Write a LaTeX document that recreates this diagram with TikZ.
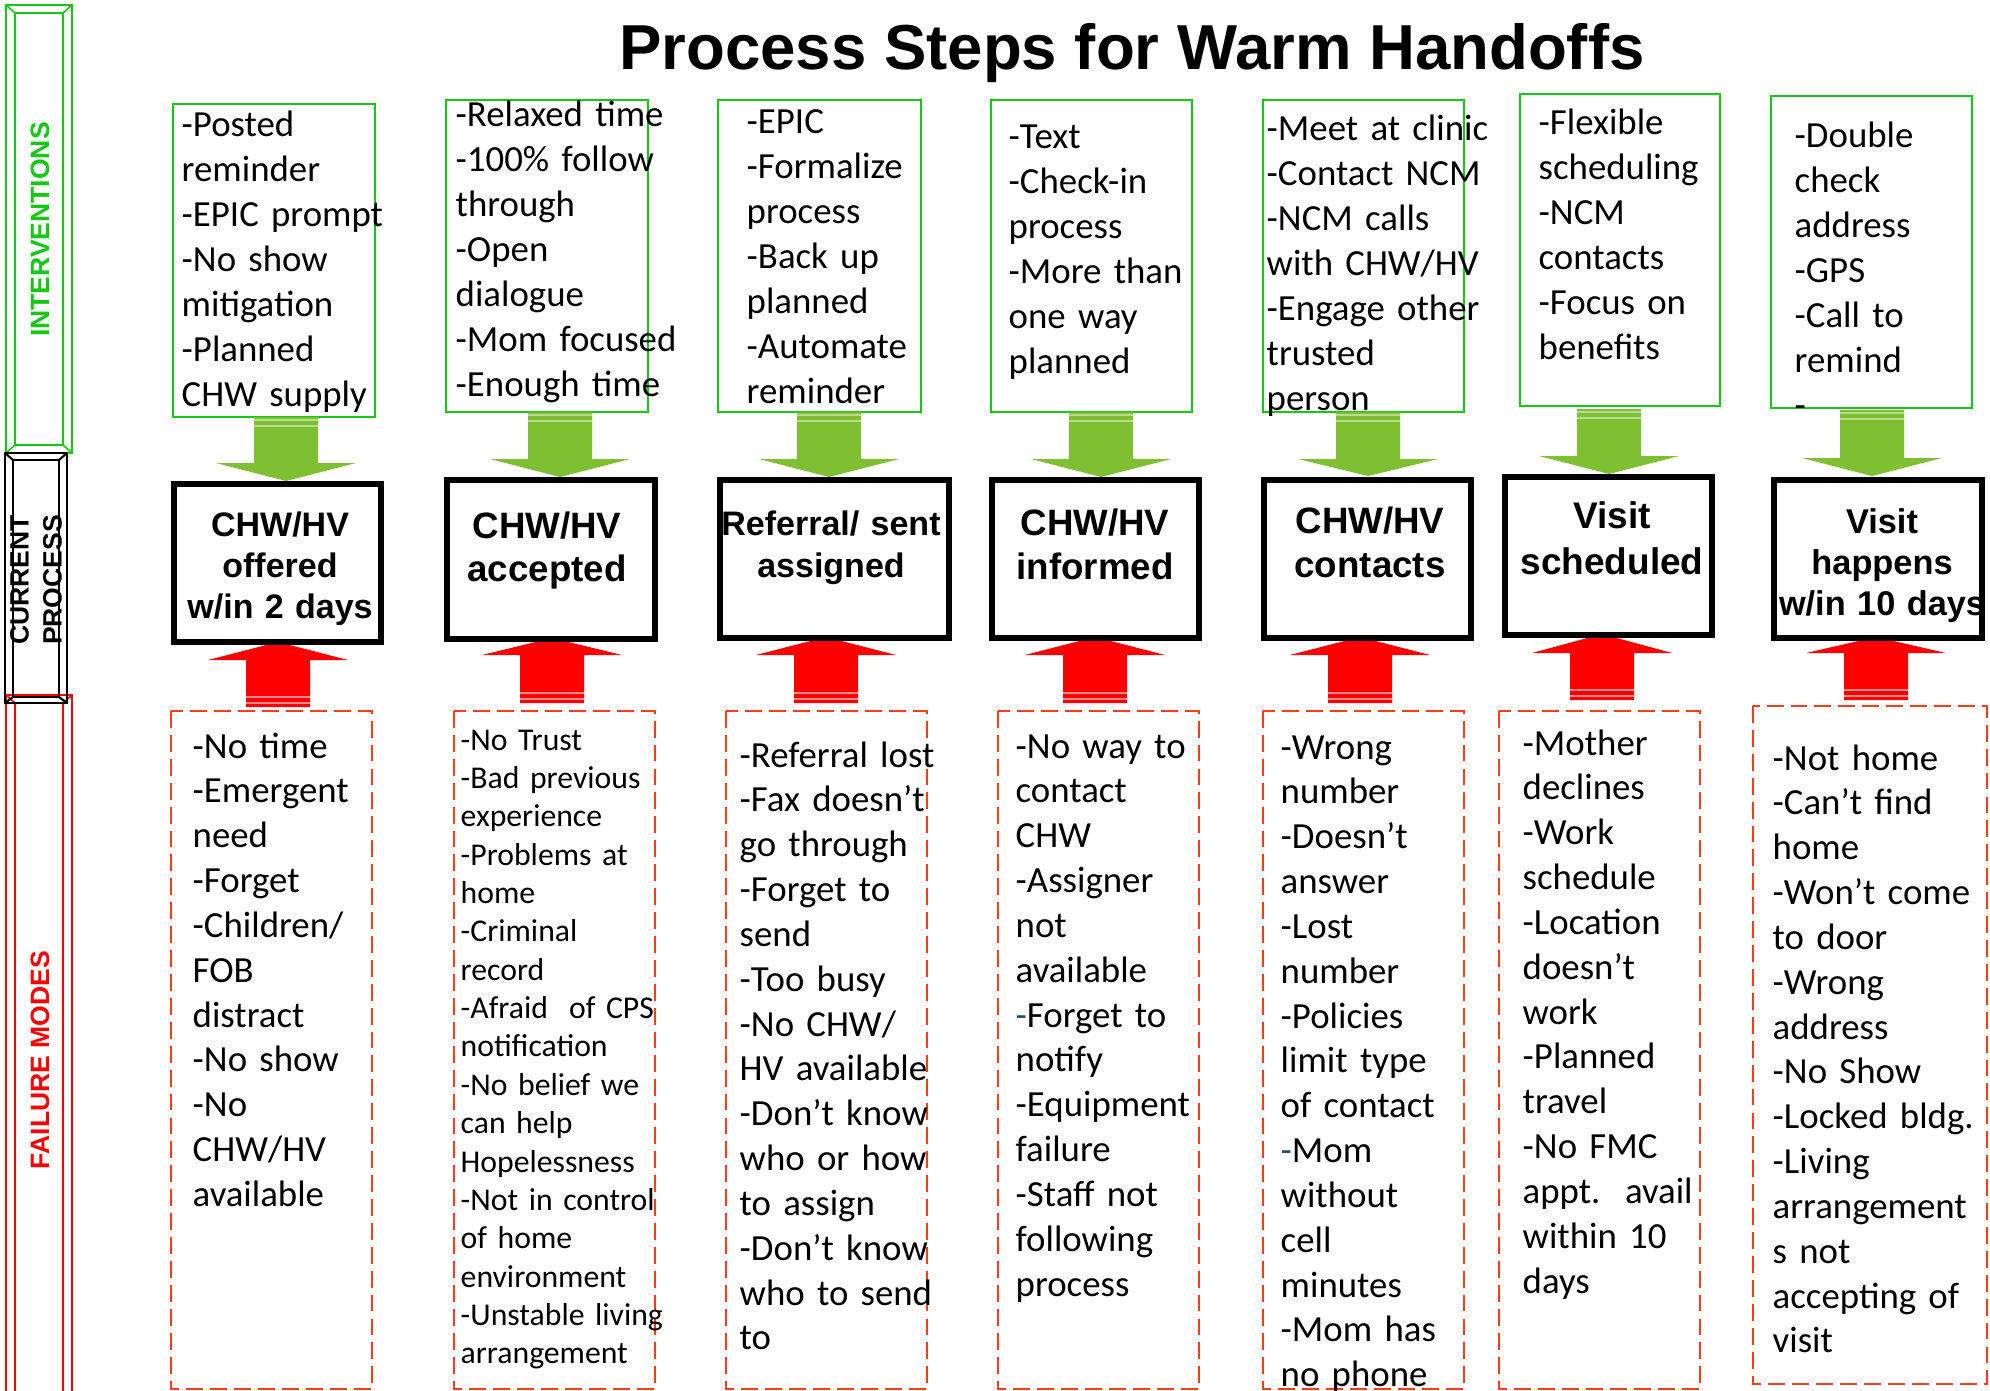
\documentclass[tikz,border=0pt]{standalone}
\usepackage{fontspec}
\setmainfont{Carlito}
\newfontfamily\arialfont{Liberation Sans}
\definecolor{ngreen}{RGB}{20,200,20}
\definecolor{agreen}{RGB}{126,192,50}
\definecolor{ared}{RGB}{255,0,0}
\definecolor{fred}{RGB}{255,60,20}
\definecolor{hyph}{RGB}{31,78,121}
% block arrow pointing down: centre x, shaft top, head base, tip
\newcommand{\gArrow}[4]{%
  \fill[agreen] ({#1-32},#2) -- ({#1+32},#2) -- ({#1+32},#3) -- ({#1+70},#3) -- (#1,#4) -- ({#1-70},#3) -- ({#1-32},#3) -- cycle;
  \draw[agreen!55!white, line width=0.3pt] ({#1-32},{#2+3}) -- ({#1+32},{#2+3}) ({#1-32},{#2+9}) -- ({#1+32},{#2+9});
}
% block arrow pointing up: centre x, shaft bottom, head base, tip
\newcommand{\rArrow}[4]{%
  \fill[ared] ({#1-32},#2) -- ({#1+32},#2) -- ({#1+32},#3) -- ({#1+70},#3) -- (#1,#4) -- ({#1-70},#3) -- ({#1-32},#3) -- cycle;
  \draw[ared!45!white, line width=0.3pt] ({#1-32},{#2-4}) -- ({#1+32},{#2-4}) ({#1-32},{#2-10}) -- ({#1+32},{#2-10});
}
\begin{document}
\begin{tikzpicture}[x=0.01cm,y=-0.01cm,
  ibox/.style={draw=ngreen, line width=0.5pt},
  pbox/.style={draw=black, line width=1.71pt, fill=white},
  fbox/.style={draw=fred, line width=0.6pt, dash pattern=on 4.8pt off 2pt},
  itext/.style={anchor=base west, inner sep=0pt, text width=4cm, align=left,
    font=\fontsize{10.47pt}{12.75pt}\selectfont},
  ismall/.style={itext, font=\fontsize{9.02pt}{10.91pt}\selectfont},
  ptext/.style={anchor=base, inner sep=0pt, text width=3cm, align=center},
  side/.style={rotate=90, inner sep=0pt, align=center,
    font=\arialfont\bfseries\fontsize{7.54pt}{9.39pt}\selectfont}]
\useasboundingbox (0,0) rectangle (1990,1391);
\fill[white] (0,0) rectangle (1990,1391);
\clip (0,0) rectangle (1990,1391);

% ---- side bars
\begin{scope}[draw=ngreen, line width=0.45pt]
  \draw (6,5) rectangle (72,453);
  \draw (15,13) rectangle (63,445);
  \draw (6,5) -- (15,13) (72,5) -- (63,13) (6,453) -- (15,445) (72,453) -- (63,445);
\end{scope}
\begin{scope}[draw=ared, line width=0.45pt]
  \draw (6,695) rectangle (72,1420);
  \draw (15,703) rectangle (63,1412);
  \draw (6,695) -- (15,703) (72,695) -- (63,703);
\end{scope}
\begin{scope}[draw=black, line width=0.6pt]
  \draw (5,453) rectangle (67,703);
  \draw (13,460) rectangle (59,697);
  \draw (5,453) -- (13,460) (67,453) -- (59,460) (5,703) -- (13,697) (67,703) -- (59,697);
\end{scope}
\node[side, text=ngreen] (lint) at (40,229.5) {INTERVENTIONS};
\node[side, text=black] (lcur) at (36,580) {CURRENT\\PROCESS};
\node[side, text=ared] (lfail) at (40,1060) {FAILURE MODES};

% ---- title
\node[anchor=base, inner sep=0pt, font=\arialfont\bfseries\fontsize{18.07pt}{21pt}\selectfont] (title) at (1132,70) {Process Steps for Warm Handoffs};

% ---- intervention boxes
\draw[ibox] (173,104) rectangle (375,417);
\draw[ibox] (446,100) rectangle (648,412);
\draw[ibox] (718,100) rectangle (921,412);
\draw[ibox] (991,100) rectangle (1192,412);
\draw[ibox] (1263,100) rectangle (1464,412);
\draw[ibox] (1520,94) rectangle (1720,406);
\draw[ibox] (1771,96) rectangle (1972,408);

\node[itext] (i1) at (181,137) {-Posted\\reminder\\-EPIC prompt\\-No show\\mitigation\\-Planned\\CHW supply};
\node[itext] (i2) at (455,127) {-Relaxed time\\-100\% follow\\through\\-Open\\dialogue\\-Mom focused\\-Enough time};
\node[itext] (i3) at (746,134) {-EPIC\\-Formalize\\process\\-Back up\\planned\\-Automate\\reminder};
\node[itext] (i4) at (1008,149) {-Text\\-Check-in\\process\\-More than\\one way\\planned};
\node[itext] (i5) at (1266,141) {-Meet at clinic\\-Contact NCM\\-NCM calls\\with CHW/HV\\-Engage other\\trusted\\person};
\node[itext] (i6) at (1538,135) {-Flexible\\scheduling\\-NCM\\contacts\\-Focus on\\benefits};
\node[itext] (i7) at (1794,148) {-Double\\check\\address\\-GPS\\-Call to\\remind\\-};

% ---- arrows
\gArrow{286}{417}{463}{481}
\gArrow{560}{412}{459}{477}
\gArrow{829}{412}{459}{477}
\gArrow{1101}{412}{459}{477}
\gArrow{1368}{412}{459}{476}
\gArrow{1609}{409}{456}{474}
\gArrow{1872}{410}{458}{476}

\rArrow{278}{707}{660}{642}
\rArrow{552}{703}{655}{638}
\rArrow{826}{703}{655}{637}
\rArrow{1095}{703}{655}{637}
\rArrow{1360}{703}{655}{637}
\rArrow{1602}{700}{653}{634}
\rArrow{1876}{700}{653}{637}

% ---- process boxes
\draw[pbox] (174,484) rectangle (381,642);
\draw[pbox] (447,480) rectangle (655,639);
\draw[pbox] (720,480) rectangle (949,638);
\draw[pbox] (992,480) rectangle (1199,638);
\draw[pbox] (1264,480) rectangle (1471,638);
\draw[pbox] (1505,477) rectangle (1712,635);
\draw[pbox] (1774,480) rectangle (1982,638);

\node[ptext, font=\arialfont\bfseries\fontsize{9.67pt}{11.67pt}\selectfont] (p1) at (280,536) {CHW/HV\\offered\\w/in 2 days};
\node[ptext, font=\arialfont\bfseries\fontsize{10.44pt}{12.23pt}\selectfont] (p2) at (547,538) {CHW/HV\\accepted};
\node[ptext, font=\arialfont\bfseries\fontsize{9.67pt}{12.09pt}\selectfont] (p3) at (831,535) {Referral/ sent\\assigned};
\node[ptext, font=\arialfont\bfseries\fontsize{10.44pt}{12.52pt}\selectfont] (p4) at (1095,535) {CHW/HV\\informed};
\node[ptext, font=\arialfont\bfseries\fontsize{10.44pt}{12.66pt}\selectfont] (p5) at (1370,533) {CHW/HV\\contacts};
\node[ptext, font=\arialfont\bfseries\fontsize{10.53pt}{13.09pt}\selectfont] (p6) at (1612,528) {Visit\\scheduled};
\node[ptext, font=\arialfont\bfseries\fontsize{9.76pt}{11.67pt}\selectfont] (p7) at (1882,533) {Visit\\happens\\w/in 10 days};

% ---- failure boxes
\draw[fbox] (171,711) rectangle (372,1389);
\draw[fbox] (454,711) rectangle (655,1389);
\draw[fbox] (726,711) rectangle (927,1389);
\draw[fbox] (998,711) rectangle (1199,1389);
\draw[fbox] (1263,711) rectangle (1464,1389);
\draw[fbox] (1499,711) rectangle (1700,1389);
\draw[fbox] (1753,706) rectangle (1987,1384);

\node[itext] (f1) at (192,758) {-No time\\-Emergent\\need\\-Forget\\-Children/\\FOB\\distract\\-No show\\-No\\CHW/HV\\available};
\node[ismall] (f2) at (460,750) {-No Trust\\-Bad previous\\experience\\-Problems at\\home\\-Criminal\\record\\-Afraid\ \ of CPS\\notification\\-No belief we\\can help\\Hopelessness\\-Not in control\\of home\\environment\\-Unstable living\\arrangement};
\node[itext] (f3) at (739,767) {-Referral lost\\-Fax doesn’t\\go through\\-Forget to\\send\\-Too busy\\-No CHW/\\HV available\\-Don’t know\\who or how\\to assign\\-Don’t know\\who to send\\to};
\node[itext] (f4) at (1015,758) {-No way to\\contact\\CHW\\-Assigner\\not\\available\\{\color{hyph}-}Forget to\\notify\\-Equipment\\failure\\-Staff not\\following\\process};
\node[itext] (f5) at (1280,759) {-Wrong\\number\\-Doesn’t\\answer\\-Lost\\number\\-Policies\\limit type\\of contact\\{\color{hyph}-}Mom\\without\\cell\\minutes\\-Mom has\\no phone};
\node[itext] (f6) at (1522,755) {-Mother\\declines\\-Work\\schedule\\-Location\\doesn’t\\work\\-Planned\\travel\\-No FMC\\appt.\ \ avail\\within 10\\days};
\node[itext] (f7) at (1772,770) {-Not home\\-Can’t find\\home\\-Won’t come\\to door\\-Wrong\\address\\-No Show\\-Locked bldg.\\-Living\\arrangement\\s not\\accepting of\\visit};
\end{tikzpicture}
\end{document}
